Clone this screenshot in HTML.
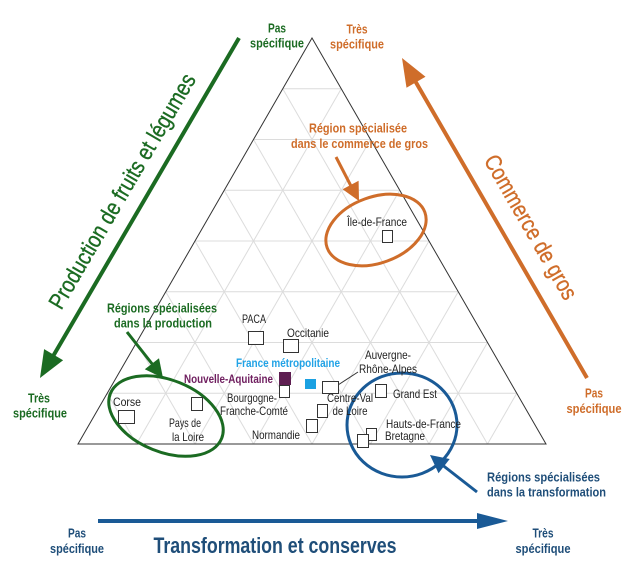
<!DOCTYPE html>
<html><head><meta charset="utf-8"><style>
html,body{margin:0;padding:0;background:#fff;}
svg{display:block;}
text{font-family:"Liberation Sans Narrow","Liberation Sans",sans-serif;}
.b{font-weight:bold;}
</style></head><body>
<svg width="630" height="573" viewBox="0 0 630 573" xmlns="http://www.w3.org/2000/svg">
<rect width="630" height="573" fill="#fff"/>
<!-- grid -->
<g stroke="#dcdcdc" stroke-width="1" fill="none">
<line x1="107.25" y1="393.25" x2="516.75" y2="393.25"/>
<line x1="136.5" y1="342.5" x2="487.5" y2="342.5"/>
<line x1="165.75" y1="291.75" x2="458.25" y2="291.75"/>
<line x1="195" y1="241" x2="429" y2="241"/>
<line x1="224.25" y1="190.25" x2="399.75" y2="190.25"/>
<line x1="253.5" y1="139.5" x2="370.5" y2="139.5"/>
<line x1="282.75" y1="88.75" x2="341.25" y2="88.75"/>
<line x1="136.5" y1="444" x2="341.25" y2="88.75"/>
<line x1="195" y1="444" x2="370.5" y2="139.5"/>
<line x1="253.5" y1="444" x2="399.75" y2="190.25"/>
<line x1="312" y1="444" x2="429" y2="241"/>
<line x1="370.5" y1="444" x2="458.25" y2="291.75"/>
<line x1="429" y1="444" x2="487.5" y2="342.5"/>
<line x1="487.5" y1="444" x2="516.75" y2="393.25"/>
<line x1="136.5" y1="444" x2="107.25" y2="393.25"/>
<line x1="195" y1="444" x2="136.5" y2="342.5"/>
<line x1="253.5" y1="444" x2="165.75" y2="291.75"/>
<line x1="312" y1="444" x2="195" y2="241"/>
<line x1="370.5" y1="444" x2="224.25" y2="190.25"/>
<line x1="429" y1="444" x2="253.5" y2="139.5"/>
<line x1="487.5" y1="444" x2="282.75" y2="88.75"/>
</g>
<polygon points="312,38 78,444 546,444" fill="none" stroke="#333" stroke-width="1"/>

<!-- green axis arrow -->
<line x1="239" y1="38" x2="52" y2="358" stroke="#1b6b22" stroke-width="4"/>
<polygon points="40,378 63.1,360.3 44.1,349.1" fill="#1b6b22"/>
<text transform="translate(122,191) rotate(-59.7)" x="0" y="8" text-anchor="middle" font-size="23" fill="#1b6b22" stroke="#1b6b22" stroke-width="0.35" textLength="268" lengthAdjust="spacingAndGlyphs">Production de fruits et légumes</text>

<!-- orange axis arrow -->
<line x1="587" y1="378" x2="414" y2="79" stroke="#cf6d2a" stroke-width="4"/>
<polygon points="402,58 425.5,76.7 406.5,87.7" fill="#cf6d2a"/>
<text transform="translate(531,227) rotate(60)" x="0" y="8" text-anchor="middle" font-size="23" fill="#cf6d2a" stroke="#cf6d2a" stroke-width="0.35" textLength="163" lengthAdjust="spacingAndGlyphs">Commerce de gros</text>

<!-- blue axis arrow -->
<line x1="98" y1="521" x2="480" y2="521" stroke="#1a5a96" stroke-width="4"/>
<polygon points="508,521 477,513 477,529" fill="#1a5a96"/>
<text x="275" y="553" text-anchor="middle" font-size="22" class="b" fill="#1f4e79" textLength="243" lengthAdjust="spacingAndGlyphs">Transformation et conserves</text>

<g class="b" font-size="13" text-anchor="middle">
<text x="277" y="32.5" fill="#1b6b22" textLength="18" lengthAdjust="spacingAndGlyphs">Pas</text>
<text x="277" y="47.5" fill="#1b6b22" textLength="54" lengthAdjust="spacingAndGlyphs">spécifique</text>
<text x="357" y="33.5" fill="#cf6d2a" textLength="21" lengthAdjust="spacingAndGlyphs">Très</text>
<text x="357" y="48.5" fill="#cf6d2a" textLength="54" lengthAdjust="spacingAndGlyphs">spécifique</text>
<text x="39" y="402.5" fill="#1b6b22" textLength="22" lengthAdjust="spacingAndGlyphs">Très</text>
<text x="40" y="417.5" fill="#1b6b22" textLength="54" lengthAdjust="spacingAndGlyphs">spécifique</text>
<text x="594" y="397.5" fill="#cf6d2a" textLength="18" lengthAdjust="spacingAndGlyphs">Pas</text>
<text x="594" y="413" fill="#cf6d2a" textLength="55" lengthAdjust="spacingAndGlyphs">spécifique</text>
<text x="77" y="537.5" fill="#1f4e79" textLength="18" lengthAdjust="spacingAndGlyphs">Pas</text>
<text x="77" y="553" fill="#1f4e79" textLength="54" lengthAdjust="spacingAndGlyphs">spécifique</text>
<text x="543" y="537.5" fill="#1f4e79" textLength="21" lengthAdjust="spacingAndGlyphs">Très</text>
<text x="543" y="553" fill="#1f4e79" textLength="55" lengthAdjust="spacingAndGlyphs">spécifique</text>
<text x="358" y="132.5" fill="#cf6d2a" textLength="98" lengthAdjust="spacingAndGlyphs">Région spécialisée</text>
<text x="359.5" y="148" fill="#cf6d2a" textLength="137" lengthAdjust="spacingAndGlyphs">dans le commerce de gros</text>
<text x="162" y="312.5" fill="#1b6b22" textLength="110" lengthAdjust="spacingAndGlyphs">Régions spécialisées</text>
<text x="163" y="327.5" fill="#1b6b22" textLength="98" lengthAdjust="spacingAndGlyphs">dans la production</text>
<text x="543.5" y="481.5" fill="#1f4e79" textLength="113" lengthAdjust="spacingAndGlyphs">Régions spécialisées</text>
<text x="546.5" y="496.5" fill="#1f4e79" textLength="119" lengthAdjust="spacingAndGlyphs">dans la transformation</text>
</g>

<ellipse cx="166" cy="416" rx="60" ry="36" transform="rotate(22 166 416)" fill="none" stroke="#1b6b22" stroke-width="3"/>
<ellipse cx="376" cy="230" rx="52" ry="33" transform="rotate(-20 376 230)" fill="none" stroke="#cf6d2a" stroke-width="3"/>
<ellipse cx="402" cy="425" rx="55" ry="52" fill="none" stroke="#1a5a96" stroke-width="3"/>

<line x1="127" y1="332" x2="153" y2="365" stroke="#1b6b22" stroke-width="3"/>
<polygon points="163,378 159,358.3 144.8,369.3" fill="#1b6b22"/>
<line x1="336" y1="157" x2="351.5" y2="187" stroke="#cf6d2a" stroke-width="3"/>
<polygon points="359,201 358.6,180.8 342.6,189.2" fill="#cf6d2a"/>
<line x1="477" y1="492" x2="443" y2="465.5" stroke="#1a5a96" stroke-width="3"/>
<polygon points="430,455 449.7,459 438.5,473.2" fill="#1a5a96"/>

<line x1="338" y1="385" x2="358" y2="372" stroke="#333" stroke-width="1"/>

<g fill="#fff" stroke="#333" stroke-width="1">
<rect x="248.5" y="331.5" width="15" height="13"/>
<rect x="283.5" y="339.5" width="15" height="13"/>
<rect x="279.5" y="385.5" width="10" height="12"/>
<rect x="306.5" y="419.5" width="11" height="13"/>
<rect x="317.5" y="404.5" width="10" height="13"/>
<rect x="322.5" y="381.5" width="16" height="12"/>
<rect x="375.5" y="384.5" width="11" height="13"/>
<rect x="366.5" y="428.5" width="10" height="12"/>
<rect x="357.5" y="434.5" width="11" height="13"/>
<rect x="382.5" y="230.5" width="10" height="12"/>
<rect x="118.5" y="410.5" width="16" height="13"/>
<rect x="191.5" y="397.5" width="11" height="13"/>
</g>
<rect x="279" y="372" width="12" height="13" fill="#5e1e51"/>
<rect x="305" y="379" width="11" height="10" fill="#1ba1e2"/>

<g font-size="12" fill="#222" text-anchor="middle">
<text x="254" y="323" textLength="24" lengthAdjust="spacingAndGlyphs">PACA</text>
<text x="308" y="337" textLength="42" lengthAdjust="spacingAndGlyphs">Occitanie</text>
<text x="252" y="402" textLength="50" lengthAdjust="spacingAndGlyphs">Bourgogne-</text>
<text x="254" y="415" textLength="68" lengthAdjust="spacingAndGlyphs">Franche-Comté</text>
<text x="276" y="439" textLength="48" lengthAdjust="spacingAndGlyphs">Normandie</text>
<text x="350" y="402" textLength="46" lengthAdjust="spacingAndGlyphs">Centre-Val</text>
<text x="350" y="415" textLength="35" lengthAdjust="spacingAndGlyphs">de Loire</text>
<text x="388" y="359" textLength="46" lengthAdjust="spacingAndGlyphs">Auvergne-</text>
<text x="388" y="373" textLength="58" lengthAdjust="spacingAndGlyphs">Rhône-Alpes</text>
<text x="415" y="398" textLength="44" lengthAdjust="spacingAndGlyphs">Grand Est</text>
<text x="423.5" y="428" textLength="75" lengthAdjust="spacingAndGlyphs">Hauts-de-France</text>
<text x="405" y="440" textLength="40" lengthAdjust="spacingAndGlyphs">Bretagne</text>
<text x="377" y="226" textLength="60" lengthAdjust="spacingAndGlyphs">Île-de-France</text>
<text x="127" y="406" textLength="28" lengthAdjust="spacingAndGlyphs">Corse</text>
<text x="185" y="427" textLength="32" lengthAdjust="spacingAndGlyphs">Pays de</text>
<text x="188" y="441" textLength="32" lengthAdjust="spacingAndGlyphs">la Loire</text>
</g>
<g font-size="12" class="b">
<text x="288" y="367" text-anchor="middle" fill="#22a3e6" textLength="104" lengthAdjust="spacingAndGlyphs">France métropolitaine</text>
<text x="273" y="383" text-anchor="end" fill="#6f1e5f" textLength="89" lengthAdjust="spacingAndGlyphs">Nouvelle-Aquitaine</text>
</g>
</svg>
</body></html>
